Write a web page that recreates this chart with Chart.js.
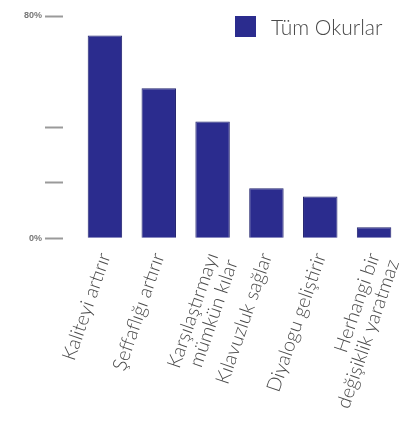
<!DOCTYPE html>
<html>
<head>
<meta charset="utf-8">
<script src="https://cdn.jsdelivr.net/npm/chart.js@4"></script>
<style>
html,body{margin:0;padding:0;background:#fff;}
#wrap{width:401px;height:432px;position:relative;}
#legend{position:absolute;left:235px;top:14px;display:flex;align-items:center;
  font-family:Lato,'Liberation Sans',Arial,sans-serif;font-weight:300;font-size:21px;color:#4a4a4a;}
#legend .box{width:21px;height:21px;margin-right:15px;display:inline-block;}
</style>
</head>
<body>
<div id="wrap"><canvas id="c"></canvas><div id="legend"></div></div>
<script>
const categories = [
  "Kaliteyi artırır",
  "Şeffaflığı artırır",
  ["Karşılaştırmayı", "mümkün kılar"],
  "Kılavuzluk sağlar",
  "Diyalogu geliştirir",
  ["Herhangi bir", "değişiklik yaratmaz"]
];
const seriesName = "Tüm Okurlar";
const values = [73, 54, 42, 18, 15, 4];
const yTickLabels = {0: "0%", 80: "80%"};
const yHiddenTicks = [60];

const htmlLegend = {
  id: 'htmlLegend',
  afterUpdate(chart) {
    const el = document.getElementById('legend');
    el.innerHTML = '';
    Chart.defaults.plugins.legend.labels.generateLabels(chart).forEach(item => {
      const box = document.createElement('span');
      box.className = 'box';
      box.style.background = item.fillStyle;
      const txt = document.createElement('span');
      txt.textContent = item.text;
      el.appendChild(box);
      el.appendChild(txt);
    });
  }
};

new Chart(document.getElementById('c'), {
  type: 'bar',
  data: {
    labels: categories,
    datasets: [{
      label: seriesName,
      data: values,
      backgroundColor: '#2b2c8e',
      borderColor: '#23246f',
      borderWidth: 1,
      categoryPercentage: 1,
      barPercentage: 0.64
    }]
  },
  plugins: [htmlLegend],
  options: {
    responsive: true,
    maintainAspectRatio: false,
    animation: false,
    layout: {padding: {left: 21, top: 16, right: 0, bottom: 17}},
    plugins: {
      legend: {display: false},
      tooltip: {enabled: false}
    },
    scales: {
      x: {
        border: {display: false},
        grid: {display: false},
        afterFit: (scale) => { scale.paddingRight = 0; },
        ticks: {
          minRotation: 71,
          maxRotation: 71,
          color: '#4a4a4a',
          padding: 4,
          font: {family: 'Lato, Liberation Sans, Arial, sans-serif', weight: '300', size: 19.5, lineHeight: 1.05}
        }
      },
      y: {
        min: 0,
        max: 80,
        border: {display: false},
        grid: {
          drawOnChartArea: false,
          drawTicks: true,
          tickLength: 33,
          tickWidth: 2,
          tickBorderDash: [18, 100],
          tickColor: (ctx) => (ctx.tick && yHiddenTicks.includes(ctx.tick.value)) ? 'rgba(0,0,0,0)' : '#9a9a9a'
        },
        ticks: {
          stepSize: 20,
          padding: 3,
          color: '#777',
          font: {family: 'Liberation Sans, Arial, sans-serif', size: 9, weight: 'bold'},
          callback: (v) => yTickLabels[v] !== undefined ? yTickLabels[v] : ''
        }
      }
    }
  }
});
</script>
</body>
</html>
